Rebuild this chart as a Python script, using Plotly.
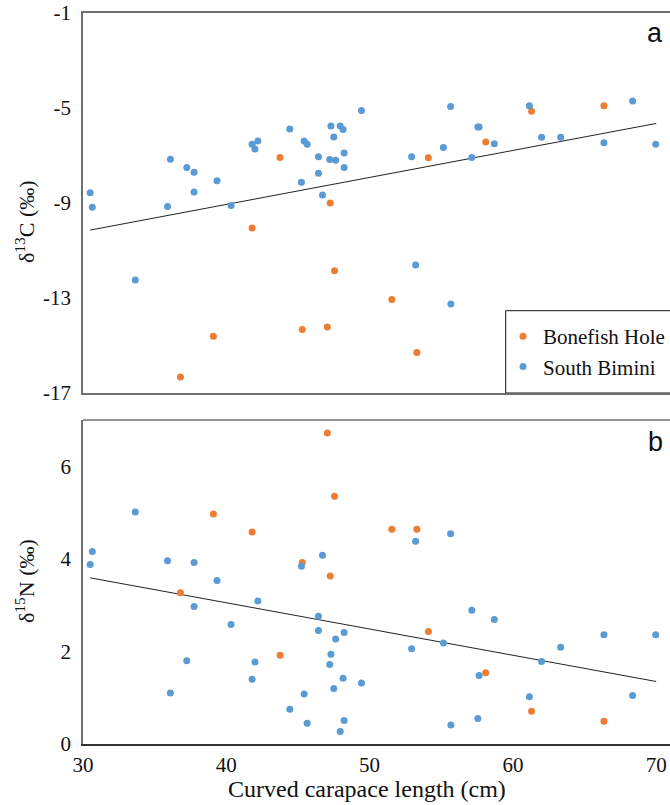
import plotly.graph_objects as go

# ---------------- data ----------------
bonefish_ccl = [36.8, 39.1, 41.8, 43.75, 45.3, 47.05, 47.25, 47.55, 51.55, 53.3, 54.1, 58.1, 61.3, 66.35]
bonefish_d13c = [-16.33, -14.61, -10.05, -7.08, -14.33, -14.22, -9.0, -11.85, -13.06, -15.29, -7.09, -6.43, -5.14, -4.90]
bonefish_d15n = [3.27, 4.97, 4.58, 1.92, 3.92, 6.72, 3.63, 5.35, 4.64, 4.64, 2.43, 1.54, 0.71, 0.49]

bimini_ccl = [30.5, 30.65, 33.65, 35.9, 36.1, 37.24, 37.75, 37.75, 39.35, 40.33, 41.8, 42.0, 42.2,
              44.43, 45.24, 45.43, 45.64, 46.43, 46.43, 46.71, 47.22, 47.3, 47.5, 47.63, 47.95,
              48.15, 48.22, 48.22, 49.43, 52.93, 53.21, 55.15, 55.65, 55.67, 57.13, 57.55, 57.64,
              58.7, 61.15, 62.0, 63.33, 66.35, 68.35, 69.96]
bimini_d13c = [-8.57, -9.18, -12.24, -9.15, -7.16, -7.51, -7.71, -8.54, -8.06, -9.11, -6.53, -6.73, -6.39,
               -5.88, -8.13, -6.39, -6.53, -7.05, -7.75, -8.66, -7.17, -5.76, -6.22, -7.20, -5.76,
               -5.91, -6.89, -7.51, -5.10, -7.05, -11.61, -6.66, -4.94, -13.25, -7.08, -5.80, -5.80,
               -6.50, -4.90, -6.23, -6.23, -6.46, -4.71, -6.53]
bimini_d15n = [3.88, 4.16, 5.01, 3.96, 1.10, 1.80, 3.92, 2.97, 3.53, 2.58, 1.40, 1.77, 3.09,
               0.75, 3.84, 1.08, 0.45, 2.76, 2.45, 4.08, 1.72, 1.94, 1.20, 2.27, 0.27,
               1.42, 2.41, 0.51, 1.32, 2.06, 4.38, 2.18, 4.54, 0.41, 2.89, 0.55, 1.48,
               2.69, 1.02, 1.78, 2.09, 2.36, 1.05, 2.36]

trend_x = [30.5, 70.0]
trend_d13c = [-10.14, -5.65]
trend_d15n = [3.59, 1.35]

x_ticks = [30, 40, 50, 60, 70]
c_ticks = [-17, -13, -9, -5, -1]
c_tick_labels = ["-17", "-13", "-9", "-5", "-1"]
n_ticks = [0, 2, 4, 6]

ORANGE = "#ED7D31"
BLUE = "#5B9BD5"
SERIF = "Liberation Serif, Times New Roman, serif"
SANS = "Liberation Sans, Arial, sans-serif"

fig = go.Figure()

# top panel
fig.add_trace(go.Scatter(x=trend_x, y=trend_d13c, mode="lines", line=dict(color="#222", width=1),
                         showlegend=False, xaxis="x", yaxis="y", hoverinfo="skip"))
fig.add_trace(go.Scatter(x=bonefish_ccl, y=bonefish_d13c, mode="markers", name="Bonefish Hole",
                         marker=dict(color=ORANGE, size=7), xaxis="x", yaxis="y"))
fig.add_trace(go.Scatter(x=bimini_ccl, y=bimini_d13c, mode="markers", name="South Bimini",
                         marker=dict(color=BLUE, size=7), xaxis="x", yaxis="y"))

# bottom panel
fig.add_trace(go.Scatter(x=trend_x, y=trend_d15n, mode="lines", line=dict(color="#222", width=1),
                         showlegend=False, xaxis="x2", yaxis="y2", hoverinfo="skip"))
fig.add_trace(go.Scatter(x=bonefish_ccl, y=bonefish_d15n, mode="markers", name="Bonefish Hole",
                         marker=dict(color=ORANGE, size=7), showlegend=False, xaxis="x2", yaxis="y2"))
fig.add_trace(go.Scatter(x=bimini_ccl, y=bimini_d15n, mode="markers", name="South Bimini",
                         marker=dict(color=BLUE, size=7), showlegend=False, xaxis="x2", yaxis="y2"))

# pixel helpers (plot area: x 83..670, y 13..744)
def px(xp):
    return (xp - 83) / 587

def py(yp):
    return (744 - yp) / 731

top_dom = [py(393), 1.0]
bot_dom = [0.0, py(420)]
xr = [30, 70.96]
FRAME = "#6f6f6f"

fig.update_layout(
    width=670, height=805,
    margin=dict(l=83, r=0, t=13, b=61, autoexpand=False),
    plot_bgcolor="white", paper_bgcolor="white",
    font=dict(family=SERIF, size=21, color="#111"),
    xaxis=dict(domain=[0, 1], range=xr, anchor="y", tickvals=x_ticks, showticklabels=False,
               showline=True, linecolor=FRAME, linewidth=1.5, mirror=True, showgrid=False,
               zeroline=False, ticks="", automargin=False),
    yaxis=dict(domain=top_dom, range=[-17, -1], anchor="x", tickvals=c_ticks, ticktext=c_tick_labels,
               showline=True, linecolor=FRAME, linewidth=1.5, showgrid=False, zeroline=False,
               ticks="", ticklabelstandoff=6, automargin=False),
    xaxis2=dict(domain=[0, 1], range=xr, anchor="y2", tickvals=x_ticks,
                showline=True, linecolor="#333", linewidth=1.5, showgrid=False, zeroline=False,
                ticks="", ticklabelstandoff=1, automargin=False),
    yaxis2=dict(domain=bot_dom, range=[0, 7], anchor="x2", tickvals=n_ticks,
                showline=True, linecolor=FRAME, linewidth=1.5, showgrid=False, zeroline=False,
                ticks="", ticklabelstandoff=6, automargin=False),
    legend=dict(x=px(503), y=top_dom[0] + 6 / 731, xanchor="left", yanchor="bottom",
                bgcolor="rgba(0,0,0,0)", borderwidth=0, font=dict(family=SERIF, size=21),
                itemwidth=30, tracegroupgap=0),
    shapes=[
        dict(type="line", xref="paper", yref="paper", x0=0, x1=1, y0=bot_dom[1], y1=bot_dom[1],
             line=dict(color=FRAME, width=1.5)),
        dict(type="rect", xref="paper", yref="paper", x0=px(505.7), x1=1.01,
             y0=top_dom[0], y1=py(310.7), line=dict(color="#111", width=1),
             fillcolor="white", layer="below"),
    ],
    annotations=[
        dict(text="a", xref="paper", yref="paper", x=px(655), y=py(33),
             xanchor="center", yanchor="middle", showarrow=False,
             font=dict(family=SANS, size=27, color="#111")),
        dict(text="b", xref="paper", yref="paper", x=px(655), y=py(441.7),
             xanchor="center", yanchor="middle", showarrow=False,
             font=dict(family=SANS, size=27, color="#111")),
        dict(text="δ<sup>13</sup>C (‰)", xref="paper", yref="paper", x=px(25), y=py(222),
             xanchor="center", yanchor="middle", textangle=-90, showarrow=False,
             font=dict(family=SERIF, size=22, color="#111")),
        dict(text="δ<sup>15</sup>N (‰)", xref="paper", yref="paper", x=px(25), y=py(581),
             xanchor="center", yanchor="middle", textangle=-90, showarrow=False,
             font=dict(family=SERIF, size=22, color="#111")),
        dict(text="Curved carapace length (cm)", xref="paper", yref="paper", x=px(367), y=py(789),
             xanchor="center", yanchor="middle", showarrow=False,
             font=dict(family=SERIF, size=24, color="#111")),
    ],
)

fig.write_html("out.html", config={"displayModeBar": False},
               post_script="document.body.style.margin='0';document.body.style.overflow='hidden';")
